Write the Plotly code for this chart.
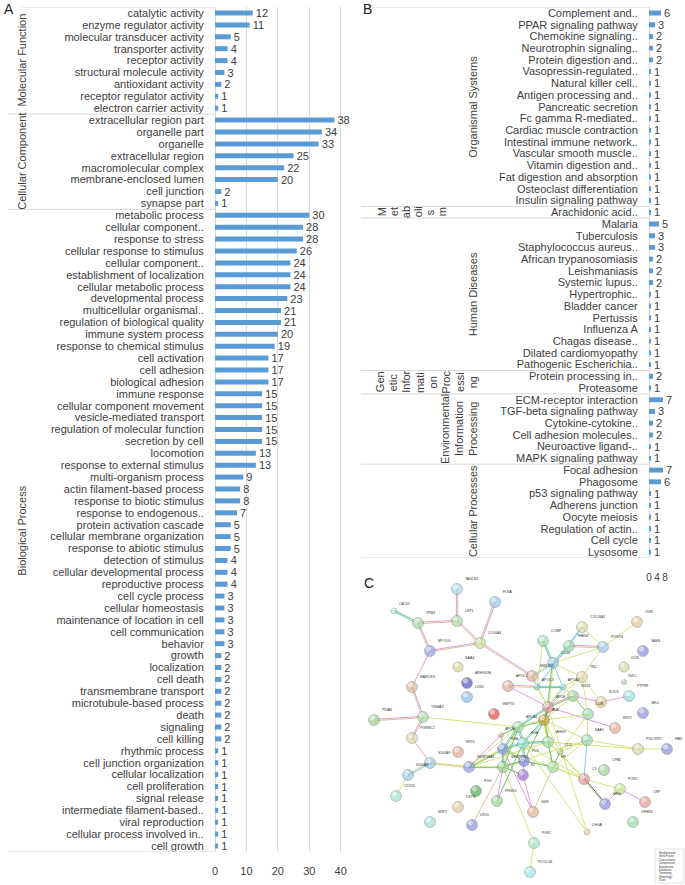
import math
import plotly.graph_objects as go

W, H = 685, 885
FONT = "Liberation Sans, Arial, sans-serif"
TXT = "#404040"
BAR = "#5B9BD5"
LINE = "#D9D9D9"

# ---------------- Panel A data (GO terms) ----------------
mf_labels = ["catalytic activity", "enzyme regulator activity", "molecular transducer activity",
             "transporter activity", "receptor activity", "structural molecule activity",
             "antioxidant activity", "receptor regulator activity", "electron carrier activity"]
mf_values = [12, 11, 5, 4, 4, 3, 2, 1, 1]

cc_labels = ["extracellular region part", "organelle part", "organelle", "extracellular region",
             "macromolecular complex", "membrane-enclosed lumen", "cell junction", "synapse part"]
cc_values = [38, 34, 33, 25, 22, 20, 2, 1]

bp_labels = ["metabolic process", "cellular component..", "response to stress",
             "cellular response to stimulus", "cellular component..", "establishment of localization",
             "cellular metabolic process", "developmental process", "multicellular organismal..",
             "regulation of biological quality", "immune system process", "response to chemical stimulus",
             "cell activation", "cell adhesion", "biological adhesion", "immune response",
             "cellular component movement", "vesicle-mediated transport", "regulation of molecular function",
             "secretion by cell", "locomotion", "response to external stimulus", "multi-organism process",
             "actin filament-based process", "response to biotic stimulus", "response to endogenous..",
             "protein activation cascade", "cellular membrane organization", "response to abiotic stimulus",
             "detection of stimulus", "cellular developmental process", "reproductive process",
             "cell cycle process", "cellular homeostasis", "maintenance of location in cell",
             "cell communication", "behavior", "growth", "localization", "cell death",
             "transmembrane transport", "microtubule-based process", "death", "signaling", "cell killing",
             "rhythmic process", "cell junction organization", "cellular localization", "cell proliferation",
             "signal release", "intermediate filament-based..", "viral reproduction",
             "cellular process involved in..", "cell growth"]
bp_values = [30, 28, 28, 26, 24, 24, 24, 23, 21, 21, 20, 19, 17, 17, 17, 15, 15, 15, 15, 15, 13, 13,
             9, 8, 8, 7, 5, 5, 5, 4, 4, 4, 3, 3, 3, 3, 3, 2, 2, 2, 2, 2, 2, 2, 2,
             1, 1, 1, 1, 1, 1, 1, 1, 1]
a_groups = ["Molecular Function", "Cellular Component", "Biological Process"]
a_ticks = [0, 10, 20, 30, 40]

# ---------------- Panel B data (KEGG pathways) ----------------
os_labels = ["Complement and..", "PPAR signaling pathway", "Chemokine signaling..", "Neurotrophin signaling..",
             "Protein digestion and..", "Vasopressin-regulated..", "Natural killer cell..",
             "Antigen processing and..", "Pancreatic secretion", "Fc gamma R-mediated..",
             "Cardiac muscle contraction", "Intestinal immune network..", "Vascular smooth muscle..",
             "Vitamin digestion and..", "Fat digestion and absorption", "Osteoclast differentiation",
             "Insulin signaling pathway"]
os_values = [6, 3, 2, 2, 2, 1, 1, 1, 1, 1, 1, 1, 1, 1, 1, 1, 1]
me_labels = ["Arachidonic acid.."]
me_values = [1]
hd_labels = ["Malaria", "Tuberculosis", "Staphylococcus aureus..", "African trypanosomiasis", "Leishmaniasis",
             "Systemic lupus..", "Hypertrophic..", "Bladder cancer", "Pertussis", "Influenza A",
             "Chagas disease..", "Dilated cardiomyopathy", "Pathogenic Escherichia.."]
hd_values = [5, 3, 3, 2, 2, 2, 1, 1, 1, 1, 1, 1, 1]
gi_labels = ["Protein processing in..", "Proteasome"]
gi_values = [2, 1]
ei_labels = ["ECM-receptor interaction", "TGF-beta signaling pathway", "Cytokine-cytokine..",
             "Cell adhesion molecules..", "Neuroactive ligand-..", "MAPK signaling pathway"]
ei_values = [7, 3, 2, 2, 1, 1]
cp_labels = ["Focal adhesion", "Phagosome", "p53 signaling pathway", "Adherens junction", "Oocyte meiosis",
             "Regulation of actin..", "Cell cycle", "Lysosome"]
cp_values = [7, 6, 1, 1, 1, 1, 1, 1]
b_groups = ["Organismal Systems", "Metabolism", "Human Diseases", "Genetic Information Processing",
            "Environmental Information Processing", "Cellular Processes"]
b_ticks = [0, 4, 8]

# ---------------- Panel C data (protein network) ----------------
node_names = ["TAGLN2", "FLNA", "CALD1", "TPM4", "LSP1", "COL6A3", "MYO1G", "SAA4", "ARHGDIB", "LCN2",
              "MARCKS", "GNPTG", "PDIA3", "YWHAZ", "PGRMC1", "KRT5", "S100A9", "SERPINA3", "S100A8",
              "CD163", "FGG", "DSTN", "NRP1", "LRG1", "PRSS3", "GSN", "PGK1", "PCOLCE", "CHGA", "CFHR4",
              "C3", "HRG", "PON1", "CRP", "CPB2", "PGLYRP2", "HBD", "SAA1", "KRT2", "SELL", "PTPRF",
              "SOD3", "LUM", "KNG1", "TNC", "APOA2", "APOC3", "APOC1", "EMILIN1", "CD44", "COMP",
              "THBS4", "COL18A1", "POSTN", "OGN", "VASN", "DCN", "IGKC",
              "APOE", "ALB", "APOA1", "APOH", "FGB", "FGA", "AHSG", "SERPINC1", "PLG", "F2", "HP", "CLU"]
node_x = [457, 495, 394, 418, 457, 480, 430, 458, 467, 467, 412, 494, 374, 423, 412, 458, 430, 469, 408,
          396, 476, 458, 430, 472, 497, 533, 534, 530, 587, 633, 584, 605, 620, 645, 604, 638, 667, 587,
          615, 643, 629, 601, 588, 573, 582, 563, 537, 508, 532, 553, 543, 569, 582, 603, 637, 643, 624,
          624, 548, 544, 518, 501, 503, 523, 548, 503, 524, 523, 553, 560]
node_y = [589, 602, 611, 623, 621, 643, 651, 667, 683, 697, 687, 714, 720, 717, 738, 752, 763, 767, 775,
          796, 791, 807, 822, 825, 801, 812, 843, 872, 832, 822, 779, 804, 789, 802, 770, 749, 749, 740,
          728, 713, 696, 702, 714, 696, 677, 687, 687, 686, 676, 663, 641, 646, 627, 647, 622, 651, 667,
          682, 707, 720, 727, 735, 749, 743, 742, 767, 761, 775, 767, 752]
node_colors = ["#a9d8ea", "#9cc6ea", "#b4e8e0", "#a8dca2", "#a8dca2", "#c8e68e", "#9ca2e6", "#d8d892",
               "#5257b8", "#8cbbe8", "#d8b892", "#e04a4a", "#a2d292", "#a8dca2", "#d8d8a2", "#e2aa92",
               "#9ac8ea", "#8a98e0", "#9ac8ea", "#a2e0d0", "#4cae4c", "#e2ca9a", "#a2e0d8", "#8a92e0",
               "#9ad292", "#e2aa92", "#a2e0c2", "#a2e0ea", "#f0caa2", "#98d8a8", "#e29292", "#8a92e0",
               "#c8e68e", "#e29a92", "#9ad292", "#d8d8a2", "#8a92e0", "#92d8b2", "#e2aa92", "#8a92e0",
               "#9ae0da", "#e2cc9a", "#9ad8a8", "#9ad292", "#e2d4a2", "#9ae0da", "#8ad8cc", "#e2aa9a",
               "#e2aa92", "#9ac8ea", "#a2dcb2", "#9ad8a8", "#d8d8a2", "#9ac8ea", "#e2ca9a", "#8a92e0",
               "#d8d89a", "#a8dca2",
               "#e29a9a", "#c8a23a", "#a8dca2", "#e2aa92", "#8a98e0", "#9ae0da", "#a8dca2", "#9ad292",
               "#8a7ee0", "#9a72d2", "#a8dca2", "#a8e0a2"]
node_sizes = [11, 11, 6, 11, 11, 11, 11, 10, 11, 11, 11, 11, 11, 11, 11, 11, 11, 11, 11, 11, 11, 11, 11,
              11, 11, 11, 11, 11, 6, 11, 11, 11, 11, 11, 11, 11, 11, 11, 11, 11, 11, 11, 11, 11, 11, 6,
              6, 11, 11, 11, 11, 11, 11, 11, 11, 11, 10, 5,
              11, 11, 11, 5, 11, 11, 11, 11, 11, 11, 11, 6]
edges = [
    ("TPM4", "CALD1", "cg"), ("TPM4", "LSP1", "pt"), ("TPM4", "MYO1G", "pt"), ("LSP1", "TAGLN2", "pt"),
    ("LSP1", "COL6A3", "pt"), ("FLNA", "COL6A3", "pt"), ("MYO1G", "COL6A3", "pt"),
    ("COL6A3", "EMILIN1", "pt"), ("MYO1G", "MARCKS", "p"), ("MARCKS", "YWHAZ", "pt"),
    ("PDIA3", "YWHAZ", "pt"), ("YWHAZ", "PGRMC1", "pt"), ("YWHAZ", "APOA1", "y"), ("PGRMC1", "S100A9", "p"),
    ("S100A9", "S100A8", "ct"), ("S100A9", "SERPINA3", "yt"), ("S100A8", "CD163", "y"),
    ("SERPINA3", "FGB", "yg"), ("SERPINA3", "SERPINC1", "yg"), ("SERPINA3", "APOA1", "y"),
    ("SERPINA3", "AHSG", "y"), ("SERPINA3", "APOH", "p"), ("COMP", "CD44", "cg"), ("COL18A1", "THBS4", "c"),
    ("COL18A1", "POSTN", "y"), ("COL18A1", "CD44", "c"), ("THBS4", "POSTN", "pt"), ("THBS4", "CD44", "cy"),
    ("THBS4", "APOC3", "c"), ("POSTN", "OGN", "y"), ("POSTN", "TNC", "y"), ("POSTN", "CD44", "y"),
    ("CD44", "EMILIN1", "cy"), ("CD44", "APOA2", "c"), ("CD44", "TNC", "y"), ("CD44", "APOE", "yg"),
    ("COMP", "APOC3", "y"), ("EMILIN1", "APOC3", "c"), ("EMILIN1", "APOE", "y"), ("APOC1", "APOC3", "py"),
    ("APOC1", "APOE", "p"), ("APOC3", "APOA2", "cg"), ("APOC3", "APOE", "y"), ("APOA2", "APOE", "cy"),
    ("APOA2", "KNG1", "y"), ("APOA2", "TNC", "y"), ("TNC", "SOD3", "y"), ("TNC", "APOE", "y"),
    ("TNC", "LUM", "y"), ("KNG1", "SOD3", "p"), ("SOD3", "PTPRF", "p"), ("KNG1", "APOE", "gp"),
    ("KNG1", "LUM", "g"), ("KNG1", "ALB", "y"), ("LUM", "SAA1", "y"), ("LUM", "ALB", "y"),
    ("LUM", "CLU", "y"), ("SAA1", "C3", "c"), ("SAA1", "CLU", "y"), ("SAA1", "ALB", "y"),
    ("SAA1", "PGLYRP2", "y"), ("PGLYRP2", "HBD", "y"), ("ALB", "APOE", "gd"), ("ALB", "APOA1", "gy"),
    ("ALB", "FGA", "cg"), ("ALB", "AHSG", "gy"), ("ALB", "CLU", "y"), ("ALB", "HP", "y"), ("ALB", "PLG", "g"),
    ("APOE", "APOA1", "gc"), ("APOE", "AHSG", "y"), ("APOA1", "FGB", "gc"), ("APOA1", "FGA", "gc"),
    ("APOA1", "APOH", "g"), ("APOA1", "SERPINC1", "gy"), ("FGA", "FGB", "gc"), ("FGA", "AHSG", "gc"),
    ("FGB", "SERPINC1", "cg"), ("FGB", "PLG", "g"), ("FGA", "PLG", "gc"), ("AHSG", "HP", "g"),
    ("AHSG", "CLU", "y"), ("AHSG", "C3", "y"), ("HP", "C3", "y"), ("HP", "CLU", "g"), ("HP", "PLG", "g"),
    ("PLG", "F2", "c"), ("SERPINC1", "F2", "g"), ("SERPINC1", "PLG", "gy"), ("SERPINC1", "PRSS3", "p"),
    ("SERPINC1", "LRG1", "t"), ("F2", "GSN", "p"), ("FGB", "GSN", "p"), ("HP", "GSN", "t"),
    ("PGK1", "SERPINC1", "y"), ("PGK1", "PCOLCE", "y"), ("CHGA", "APOE", "y"), ("CHGA", "FGA", "y"),
    ("C3", "PON1", "y"), ("C3", "HRG", "dt"), ("PON1", "CRP", "p"), ("PON1", "HRG", "p"), ("C3", "FGA", "y"),
    ("C3", "CLU", "y"), ("SAA1", "HP", "y"), ("SAA1", "SERPINC1", "y"), ("FGB", "C3", "y"),
    ("PGLYRP2", "AHSG", "y"), ("APOE", "KRT2", "p"), ("FGA", "PRSS3", "g"), ("APOH", "FGB", "c"),
]
edge_colors = {"p": "#e38fcf", "t": "#cbbd8f", "y": "#d4e06c", "c": "#6fc8e3", "g": "#5cbf5c",
               "d": "#4f4f4f"}
legend_items = ["Neighborhood", "Gene Fusion", "Cooccurrence", "Coexpression", "Experiments",
                "Databases", "Textmining", "[Homology]", "Score"]

# ---------------- helpers ----------------
def px_x(x):
    return x / W

def px_y(y):
    return 1 - y / H

fig = go.Figure()

# Panel A
a_labels = mf_labels + cc_labels + bp_labels
a_values = mf_values + cc_values + bp_values
nA = len(a_labels)
A_y0, A_p = 13.0, 11.9
A_top = A_y0 - 0.5 * A_p
A_bot = A_y0 + (nA - 0.5) * A_p
A_x0, A_scale = 215.0, 3.143
A_x1 = 355.0

fig.add_trace(go.Bar(
    x=a_values, y=list(range(nA)), orientation="h", width=0.42,
    marker=dict(color=BAR, line=dict(width=0)),
    text=["\u00a0" + str(v) for v in a_values], textposition="outside", cliponaxis=False,
    constraintext="none", textfont=dict(family=FONT, size=11, color=TXT),
    xaxis="x", yaxis="y", hoverinfo="skip", showlegend=False))

# Panel B
b_label_groups = [os_labels, me_labels, hd_labels, gi_labels, ei_labels, cp_labels]
b_value_groups = [os_values, me_values, hd_values, gi_values, ei_values, cp_values]
b_labels = [l for g in b_label_groups for l in g]
b_values = [v for g in b_value_groups for v in g]
nB = len(b_labels)
B_y0, B_p = 13.0, 11.72
B_top = B_y0 - 0.5 * B_p
B_bot = B_y0 + (nB - 0.5) * B_p
B_x0, B_x1 = 649.0, 665.0

fig.add_trace(go.Bar(
    x=b_values, y=list(range(nB)), orientation="h", width=0.42,
    marker=dict(color=BAR, line=dict(width=0)),
    text=["\u00a0" + str(v) for v in b_values], textposition="outside", cliponaxis=False,
    constraintext="none", textfont=dict(family=FONT, size=11, color=TXT),
    xaxis="x2", yaxis="y2", hoverinfo="skip", showlegend=False))

# Panel C : edges
pos = {n: (x, y) for n, x, y in zip(node_names, node_x, node_y)}
seg = {k: ([], []) for k in edge_colors}
for a, b, chans in edges:
    (x1, y1), (x2, y2) = pos[a], pos[b]
    dx, dy = x2 - x1, y2 - y1
    L = math.hypot(dx, dy) or 1
    nx, ny = -dy / L, dx / L
    n = len(chans)
    for i, ch in enumerate(chans):
        off = (i - (n - 1) / 2) * 1.3
        xs, ys = seg[ch]
        xs += [x1 + nx * off, x2 + nx * off, None]
        ys += [y1 + ny * off, y2 + ny * off, None]
for ch, (xs, ys) in seg.items():
    fig.add_trace(go.Scatter(x=xs, y=ys, mode="lines", line=dict(color=edge_colors[ch], width=0.9),
                             xaxis="x3", yaxis="y3", hoverinfo="skip", showlegend=False))

fig.add_trace(go.Scatter(
    x=node_x, y=node_y, mode="markers+text", text=node_names, textposition="top right",
    textfont=dict(family=FONT, size=3.5, color="#333333"),
    marker=dict(size=node_sizes, color=node_colors, line=dict(color="#7a7a7a", width=0.6)),
    xaxis="x3", yaxis="y3", hoverinfo="skip", showlegend=False))
# glossy highlights
fig.add_trace(go.Scatter(
    x=[x - 1.5 for x in node_x], y=[y - 2 for y in node_y], mode="markers",
    marker=dict(size=[max(2, s * 0.35) for s in node_sizes], color="rgba(255,255,255,0.55)"),
    xaxis="x3", yaxis="y3", hoverinfo="skip", showlegend=False))

axis_font = dict(family=FONT, size=11, color=TXT)
layout = dict(
    width=W, height=H, autosize=False, margin=dict(l=0, r=0, t=0, b=0, pad=0, autoexpand=False),
    paper_bgcolor="white", plot_bgcolor="rgba(0,0,0,0)", bargap=0.5,
    font=dict(family=FONT, color=TXT),
    xaxis=dict(domain=[px_x(A_x0), px_x(A_x1)], range=[0, (A_x1 - A_x0) / A_scale],
               tickmode="array", tickvals=a_ticks, ticktext=[str(t) for t in a_ticks],
               showgrid=True, gridcolor=LINE, gridwidth=1, zeroline=True, zerolinecolor=LINE,
               zerolinewidth=1, showline=False, ticks="outside", ticklen=9, tickangle=0,
               tickcolor="rgba(0,0,0,0)", tickfont=axis_font, anchor="y", fixedrange=True,
               automargin=False),
    yaxis=dict(domain=[px_y(A_bot), px_y(A_top)], range=[nA - 0.5, -0.5],
               tickmode="array", tickvals=list(range(nA)), ticktext=a_labels,
               showgrid=False, zeroline=False, showline=False, ticks="outside", ticklen=8,
               tickcolor="rgba(0,0,0,0)", tickfont=axis_font, anchor="x", fixedrange=True,
               automargin=False),
    xaxis2=dict(domain=[px_x(B_x0), px_x(B_x1)], range=[0, 8],
                tickmode="array", tickvals=b_ticks, ticktext=[str(t) for t in b_ticks],
                showgrid=False, zeroline=True, zerolinecolor=LINE, zerolinewidth=1, showline=False,
                ticks="outside", ticklen=10, tickcolor="rgba(0,0,0,0)", tickangle=0,
                tickfont=dict(family=FONT, size=10, color=TXT), anchor="y2", fixedrange=True,
                automargin=False),
    yaxis2=dict(domain=[px_y(B_bot), px_y(B_top)], range=[nB - 0.5, -0.5],
                tickmode="array", tickvals=list(range(nB)), ticktext=b_labels,
                showgrid=False, zeroline=False, showline=False, ticks="outside", ticklen=8,
                tickcolor="rgba(0,0,0,0)", tickfont=axis_font, anchor="x2", fixedrange=True,
                automargin=False),
    xaxis3=dict(domain=[px_x(360), 1], range=[360, 685], visible=False, anchor="y3", fixedrange=True,
                automargin=False),
    yaxis3=dict(domain=[0, px_y(575)], range=[885, 575], visible=False, anchor="x3", fixedrange=True,
                automargin=False),
)
fig.update_layout(**layout)

shapes = []
annotations = []

# Panel A group separators and titles
a_counts = [len(mf_labels), len(cc_labels), len(bp_labels)]
bounds = [-0.5]
for c in a_counts:
    bounds.append(bounds[-1] + c)
for i, b in enumerate(bounds):
    shapes.append(dict(type="line", xref="paper", yref="y", x0=px_x(8 if i else 22), x1=px_x(A_x0),
                       y0=b, y1=b, line=dict(color=LINE, width=1)))
for i, g in enumerate(a_groups):
    annotations.append(dict(text=g, xref="paper", yref="y", x=px_x(22), y=(bounds[i] + bounds[i + 1]) / 2,
                            textangle=-90, showarrow=False, xanchor="center", yanchor="middle",
                            font=dict(family=FONT, size=11, color=TXT)))

# Panel B group separators and titles
b_counts = [len(g) for g in b_label_groups]
bb = [-0.5]
for c in b_counts:
    bb.append(bb[-1] + c)
for i, b in enumerate(bb):
    shapes.append(dict(type="line", xref="paper", yref="y2", x0=px_x(365 if i == 0 else 361), x1=px_x(B_x0),
                       y0=b, y1=b, line=dict(color=LINE, width=1)))
b_title_lines = [["Organismal Systems"], ["M", "et", "ab", "oli", "s", "m"], ["Human Diseases"],
                 ["Gen", "etic", "Infor", "mati", "on", "Proc", "essi", "ng"],
                 ["Environmental", "Information", "Processing"], ["Cellular Processes"]]
b_title_x = [473, 382, 473, 380, 445, 473]
b_title_dx = [0, 12, 0, 13.3, 14, 0]
for i, lines in enumerate(b_title_lines):
    yc = (bb[i] + bb[i + 1]) / 2
    for j, ln in enumerate(lines):
        annotations.append(dict(text=ln, xref="paper", yref="y2", x=px_x(b_title_x[i] + j * b_title_dx[i]),
                                y=yc, textangle=-90, showarrow=False, xanchor="center", yanchor="middle",
                                font=dict(family=FONT, size=11, color=TXT)))

# Panel letters
for t, x, y in [("A", 9, 9), ("B", 367, 9), ("C", 369, 583)]:
    annotations.append(dict(text=t, xref="paper", yref="paper", x=px_x(x), y=px_y(y), showarrow=False,
                            xanchor="center", yanchor="middle", font=dict(family=FONT, size=14, color="#222")))

# Network legend box
shapes.append(dict(type="rect", xref="x3", yref="y3", x0=655, x1=684, y0=849, y1=883,
                   line=dict(color="#cccccc", width=0.6), fillcolor="white"))
annotations.append(dict(text="<br>".join(legend_items), xref="x3", yref="y3", x=657, y=866,
                        xanchor="left", yanchor="middle", showarrow=False, align="left",
                        font=dict(family=FONT, size=2.6, color="#333")))

fig.update_layout(shapes=shapes, annotations=annotations)
fig.write_html("out.html", config={"displayModeBar": False},
               post_script="document.body.style.margin='0px';document.body.style.padding='0px';")
